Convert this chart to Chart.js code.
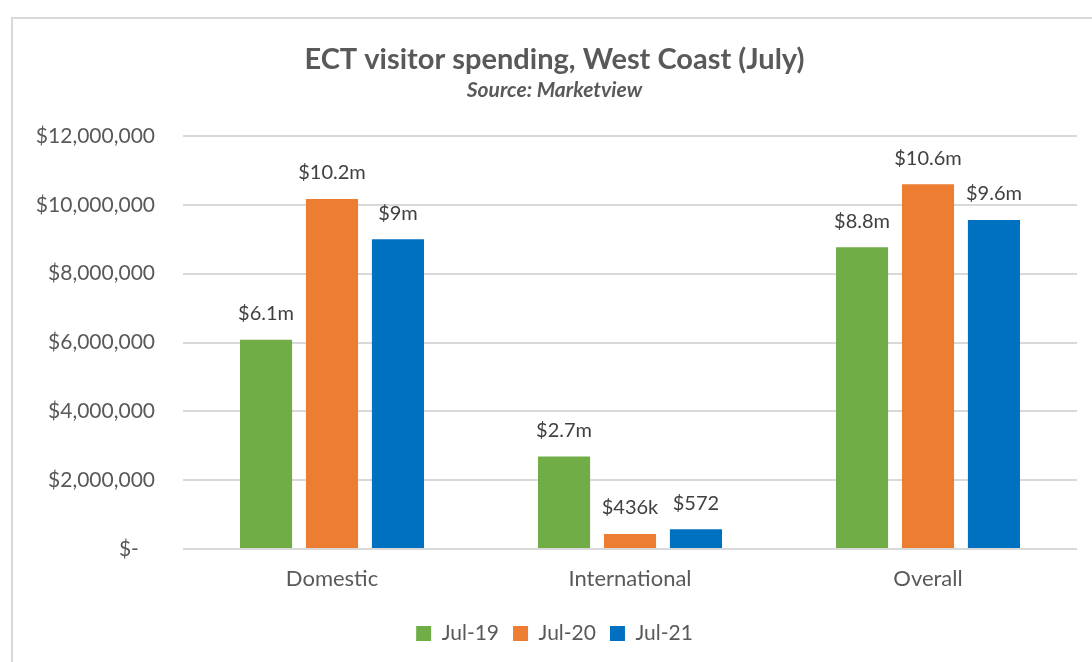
<!DOCTYPE html>
<html lang="en">
<head>
    <meta charset="UTF-8">
    <title>ECT visitor spending, West Coast (July)</title>
    <script src="https://cdn.jsdelivr.net/npm/chart.js"></script>
    <style>
        body {
            margin: 0;
            background: #ffffff;
            overflow: hidden;
        }

        .frame {
            position: absolute;
            left: 11px;
            top: 17px;
            width: 1200px;
            height: 800px;
            border: 2px solid #d9d9d9;
            box-sizing: border-box;
        }

        .chart-box {
            position: absolute;
            left: 0;
            top: 0;
            width: 1092px;
            height: 662px;
        }
    </style>
</head>
<body>
    <div class="frame"></div>
    <div class="chart-box">
        <canvas id="spendChart"></canvas>
    </div>

    <script>
        // Chart data
        const categories = ["Domestic", "International", "Overall"];
        const seriesNames = ["Jul-19", "Jul-20", "Jul-21"];
        const jul19 = [6080000, 2690000, 8770000];
        const jul20 = [10170000, 436000, 10600000];
        const jul21 = [9000000, 572000, 9560000];
        const jul19Labels = ["$6.1m", "$2.7m", "$8.8m"];
        const jul20Labels = ["$10.2m", "$436k", "$10.6m"];
        const jul21Labels = ["$9m", "$572", "$9.6m"];
        const yTicks = [0, 2000000, 4000000, 6000000, 8000000, 10000000, 12000000];

        const colors = ["#70ad47", "#ed7d31", "#0070c0"];
        const fontFamily = "Lato, 'Open Sans', sans-serif";

        // Draws the value labels above each bar
        const barLabels = {
            id: 'barLabels',
            afterDatasetsDraw(chart) {
                const ctx = chart.ctx;
                ctx.save();
                ctx.font = "20px " + fontFamily;
                ctx.fillStyle = "#404040";
                ctx.textAlign = "center";
                ctx.textBaseline = "middle";
                chart.data.datasets.forEach((ds, i) => {
                    chart.getDatasetMeta(i).data.forEach((bar, j) => {
                        ctx.fillText(ds.valueLabels[j], bar.x, bar.y - 26);
                    });
                });
                ctx.restore();
            }
        };

        const ctx = document.getElementById('spendChart').getContext('2d');
        const spendChart = new Chart(ctx, {
            type: 'bar',
            data: {
                labels: categories,
                datasets: [
                    { label: seriesNames[0], data: jul19, valueLabels: jul19Labels, backgroundColor: colors[0] },
                    { label: seriesNames[1], data: jul20, valueLabels: jul20Labels, backgroundColor: colors[1] },
                    { label: seriesNames[2], data: jul21, valueLabels: jul21Labels, backgroundColor: colors[2] }
                ]
            },
            options: {
                responsive: true,
                maintainAspectRatio: false,
                animation: false,
                datasets: {
                    bar: {
                        categoryPercentage: 0.664,
                        barPercentage: 0.79
                    }
                },
                layout: {
                    padding: { top: 20, right: 15, bottom: 8, left: 32 }
                },
                plugins: {
                    title: {
                        display: true,
                        text: "ECT visitor spending, West Coast (July)",
                        color: "#595959",
                        font: { family: fontFamily, size: 29, weight: 'bold' },
                        padding: { top: 22, bottom: 0 }
                    },
                    subtitle: {
                        display: true,
                        text: "Source: Marketview",
                        color: "#595959",
                        font: { family: fontFamily, size: 21, weight: 'bold', style: 'italic' },
                        padding: { top: 1, bottom: 33 }
                    },
                    legend: {
                        position: 'bottom',
                        labels: {
                            color: "#595959",
                            font: { family: fontFamily, size: 21 },
                            boxWidth: 15,
                            boxHeight: 15,
                            padding: 14
                        }
                    },
                    tooltip: { enabled: false }
                },
                scales: {
                    x: {
                        grid: { display: false },
                        border: { display: false },
                        ticks: {
                            color: "#595959",
                            font: { family: fontFamily, size: 22 },
                            padding: 9
                        },
                        afterFit(scale) { scale.height = 60; }
                    },
                    y: {
                        min: 0,
                        max: 12000000,
                        grid: { color: "#d9d9d9", lineWidth: 2, drawTicks: false },
                        border: { display: false },
                        afterFit(scale) { scale.width = 151; },
                        afterBuildTicks(scale) {
                            scale.ticks = yTicks.map(v => ({ value: v }));
                        },
                        ticks: {
                            color: "#595959",
                            font: { family: fontFamily, size: 21 },
                            padding: 28,
                            callback: v => v === 0 ? "$-   " : "$" + v.toLocaleString('en-US')
                        }
                    }
                }
            },
            plugins: [barLabels]
        });
    </script>
</body>
</html>
